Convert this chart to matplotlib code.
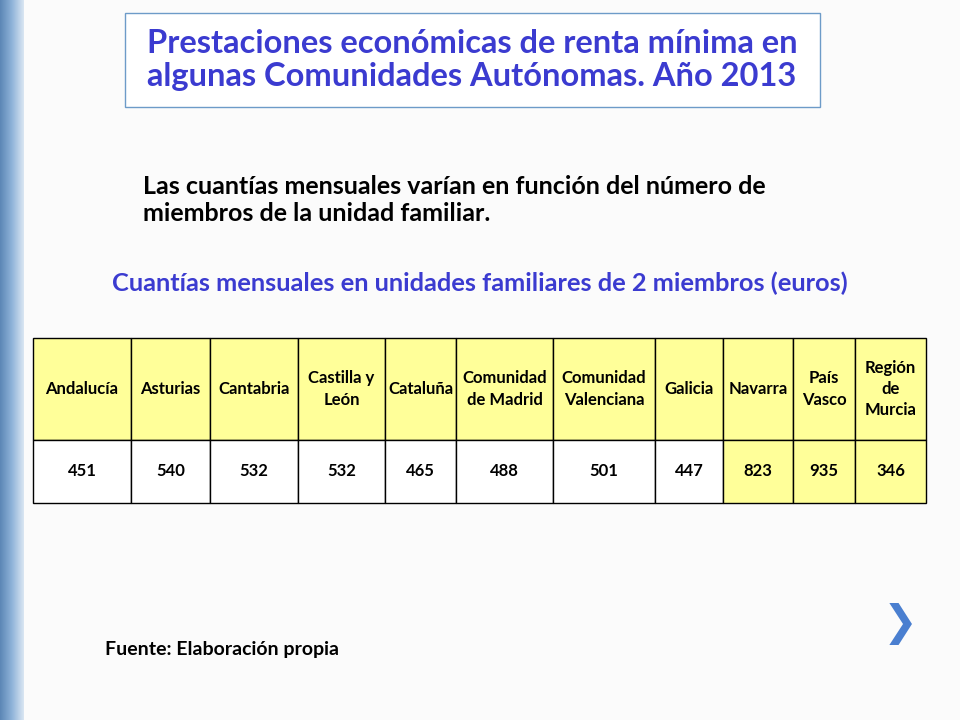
import matplotlib
matplotlib.use("Agg")
import matplotlib.pyplot as plt
from matplotlib.patches import Rectangle
import numpy as np

regions = ["Andalucía", "Asturias", "Cantabria", "Castilla y\nLeón", "Cataluña",
           "Comunidad\nde Madrid", "Comunidad\nValenciana", "Galicia", "Navarra",
           "País\nVasco", "Región\nde\nMurcia"]
amounts = [451, 540, 532, 532, 465, 488, 501, 447, 823, 935, 346]
highlight = [False]*8 + [True]*3
col_edges = [33, 131, 210, 298, 385, 456, 553, 655, 723, 793, 855, 926]

fig = plt.figure(figsize=(9.6, 7.2), dpi=100)
ax = fig.add_axes([0, 0, 1, 1])
ax.set_xlim(0, 960); ax.set_ylim(720, 0); ax.axis("off")

ax.add_patch(Rectangle((0, 0), 960, 720, facecolor="#fbfbfb", edgecolor="none"))
for k in range(-720, 960, 6):
    ax.plot([k, k + 720], [720, 0], color="#e8e8e8", lw=0.6, zorder=0.5)
grad = np.linspace(0, 1, 256).reshape(1, -1)
ax.imshow(grad, extent=(0, 24, 720, 0), cmap=matplotlib.colors.LinearSegmentedColormap.from_list(
    "b", ["#5b86b5", "#8fb3d9", "#dbe7f3"]), aspect="auto", zorder=1)

font = "Lato"
ax.add_patch(Rectangle((125, 13), 695, 94, facecolor="white", edgecolor="#6d9bc8", lw=1, zorder=2))
ax.text(472, 60, "Prestaciones económicas de renta mínima en\nalgunas Comunidades Autónomas. Año 2013",
        ha="center", va="center", fontsize=23.5, fontweight="bold", color="#3b3bd0",
        family=font, linespacing=1.2, zorder=3)
ax.text(143, 200, "Las cuantías mensuales varían en función del número de\nmiembros de la unidad familiar.",
        ha="left", va="center", fontsize=18, fontweight="bold", color="black",
        family=font, linespacing=1.25, zorder=3)
ax.text(480, 283, "Cuantías mensuales en unidades familiares de 2 miembros (euros)",
        ha="center", va="center", fontsize=18.3, fontweight="bold", color="#3b3bd0",
        family=font, zorder=3)

y0, y1, y2 = 338, 440, 503
for i, (r, a, h) in enumerate(zip(regions, amounts, highlight)):
    x0, x1 = col_edges[i], col_edges[i + 1]
    ax.add_patch(Rectangle((x0, y0), x1 - x0, y1 - y0, facecolor="#ffff99", edgecolor="black", lw=1, zorder=2))
    ax.add_patch(Rectangle((x0, y1), x1 - x0, y2 - y1, facecolor="#ffff99" if h else "white",
                           edgecolor="black", lw=1, zorder=2))
    ax.text((x0 + x1) / 2, (y0 + y1) / 2, r, ha="center", va="center", fontsize=12,
            fontweight="bold", family=font, linespacing=1.4, zorder=3)
    ax.text((x0 + x1) / 2, (y1 + y2) / 2, str(a), ha="center", va="center", fontsize=12,
            fontweight="bold", family=font, zorder=3)

ax.text(900, 624, "❯", ha="center", va="center", fontsize=30, color="#4a7fd0",
        family="DejaVu Sans", zorder=3)
ax.text(105, 650, "Fuente: Elaboración propia", ha="left", va="center", fontsize=14,
        fontweight="bold", family=font, zorder=3)

fig.savefig("out.png", dpi=100)
